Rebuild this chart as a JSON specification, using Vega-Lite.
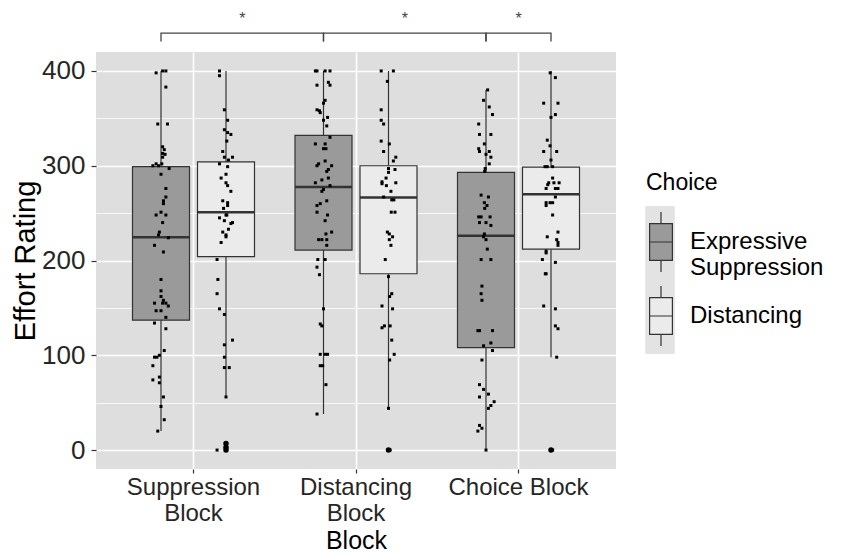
{
"$schema": "https://vega.github.io/schema/vega-lite/v6.json",
"width": 520,
"height": 417,
"autosize": "none",
"padding": {"left": 96, "top": 52, "right": 228, "bottom": 87},
"background": "white",
"config": {
  "font": "Liberation Sans",
  "view": {"fill": "#DEDEDE", "stroke": null}
},
"datasets": {
  "boxes": [
    {"Block": "Suppression Block", "Choice": "Expressive Suppression", "lower": 20, "q1": 137, "median": 224.5, "q3": 299, "upper": 400},
    {"Block": "Suppression Block", "Choice": "Distancing", "lower": 56, "q1": 204, "median": 251, "q3": 304, "upper": 400},
    {"Block": "Distancing Block", "Choice": "Expressive Suppression", "lower": 38, "q1": 211, "median": 277.5, "q3": 332, "upper": 400},
    {"Block": "Distancing Block", "Choice": "Distancing", "lower": 43.5, "q1": 186, "median": 266.5, "q3": 300, "upper": 400},
    {"Block": "Choice Block", "Choice": "Expressive Suppression", "lower": 0, "q1": 108, "median": 226, "q3": 293, "upper": 380},
    {"Block": "Choice Block", "Choice": "Distancing", "lower": 98, "q1": 212, "median": 270, "q3": 298.6, "upper": 400}
  ],
  "outliers": [
    {"Block": "Suppression Block", "Choice": "Distancing", "rating": 0},
    {"Block": "Suppression Block", "Choice": "Distancing", "rating": 3},
    {"Block": "Suppression Block", "Choice": "Distancing", "rating": 7},
    {"Block": "Distancing Block", "Choice": "Distancing", "rating": 0},
    {"Block": "Choice Block", "Choice": "Distancing", "rating": 0}
  ],
  "brackets": [
    {"pair": 1, "step": 1, "Block": "Suppression Block", "Choice": "Expressive Suppression", "y": 431},
    {"pair": 1, "step": 2, "Block": "Suppression Block", "Choice": "Expressive Suppression", "y": 440},
    {"pair": 1, "step": 3, "Block": "Distancing Block", "Choice": "Expressive Suppression", "y": 440},
    {"pair": 1, "step": 4, "Block": "Distancing Block", "Choice": "Expressive Suppression", "y": 431},
    {"pair": 2, "step": 1, "Block": "Distancing Block", "Choice": "Expressive Suppression", "y": 431},
    {"pair": 2, "step": 2, "Block": "Distancing Block", "Choice": "Expressive Suppression", "y": 440},
    {"pair": 2, "step": 3, "Block": "Choice Block", "Choice": "Expressive Suppression", "y": 440},
    {"pair": 2, "step": 4, "Block": "Choice Block", "Choice": "Expressive Suppression", "y": 431},
    {"pair": 3, "step": 1, "Block": "Choice Block", "Choice": "Expressive Suppression", "y": 431},
    {"pair": 3, "step": 2, "Block": "Choice Block", "Choice": "Expressive Suppression", "y": 440},
    {"pair": 3, "step": 3, "Block": "Choice Block", "Choice": "Distancing", "y": 440},
    {"pair": 3, "step": 4, "Block": "Choice Block", "Choice": "Distancing", "y": 431}
  ],
  "stars": [
    {"Block": "Suppression Block", "shift": 0.5, "y": 455, "label": "*"},
    {"Block": "Distancing Block", "shift": 0.5, "y": 455, "label": "*"},
    {"Block": "Choice Block", "shift": 0.2, "y": 455, "label": "*"}
  ],
  "points": [
    {"Block": "Suppression Block", "Choice": "Expressive Suppression", "rating": 398, "jitter": -0.03},
    {"Block": "Suppression Block", "Choice": "Expressive Suppression", "rating": 400, "jitter": 0.01},
    {"Block": "Suppression Block", "Choice": "Expressive Suppression", "rating": 400, "jitter": 0.03},
    {"Block": "Suppression Block", "Choice": "Expressive Suppression", "rating": 383, "jitter": 0.03},
    {"Block": "Suppression Block", "Choice": "Expressive Suppression", "rating": 344, "jitter": -0.02},
    {"Block": "Suppression Block", "Choice": "Expressive Suppression", "rating": 344, "jitter": 0.04},
    {"Block": "Suppression Block", "Choice": "Expressive Suppression", "rating": 320, "jitter": 0.01},
    {"Block": "Suppression Block", "Choice": "Expressive Suppression", "rating": 317, "jitter": 0.02},
    {"Block": "Suppression Block", "Choice": "Expressive Suppression", "rating": 313, "jitter": 0.01},
    {"Block": "Suppression Block", "Choice": "Expressive Suppression", "rating": 312, "jitter": 0.025},
    {"Block": "Suppression Block", "Choice": "Expressive Suppression", "rating": 309, "jitter": 0.01},
    {"Block": "Suppression Block", "Choice": "Expressive Suppression", "rating": 302, "jitter": -0.03},
    {"Block": "Suppression Block", "Choice": "Expressive Suppression", "rating": 300, "jitter": -0.05},
    {"Block": "Suppression Block", "Choice": "Expressive Suppression", "rating": 300, "jitter": -0.015},
    {"Block": "Suppression Block", "Choice": "Expressive Suppression", "rating": 302, "jitter": 0.005},
    {"Block": "Suppression Block", "Choice": "Expressive Suppression", "rating": 297, "jitter": 0.05},
    {"Block": "Suppression Block", "Choice": "Expressive Suppression", "rating": 291, "jitter": 0},
    {"Block": "Suppression Block", "Choice": "Expressive Suppression", "rating": 276, "jitter": 0.03},
    {"Block": "Suppression Block", "Choice": "Expressive Suppression", "rating": 267, "jitter": 0.03},
    {"Block": "Suppression Block", "Choice": "Expressive Suppression", "rating": 263, "jitter": 0.015},
    {"Block": "Suppression Block", "Choice": "Expressive Suppression", "rating": 260, "jitter": 0.015},
    {"Block": "Suppression Block", "Choice": "Expressive Suppression", "rating": 248, "jitter": -0.03},
    {"Block": "Suppression Block", "Choice": "Expressive Suppression", "rating": 251, "jitter": 0},
    {"Block": "Suppression Block", "Choice": "Expressive Suppression", "rating": 248, "jitter": 0.03},
    {"Block": "Suppression Block", "Choice": "Expressive Suppression", "rating": 240, "jitter": 0.01},
    {"Block": "Suppression Block", "Choice": "Expressive Suppression", "rating": 230, "jitter": -0.01},
    {"Block": "Suppression Block", "Choice": "Expressive Suppression", "rating": 227, "jitter": -0.015},
    {"Block": "Suppression Block", "Choice": "Expressive Suppression", "rating": 224, "jitter": 0.045},
    {"Block": "Suppression Block", "Choice": "Expressive Suppression", "rating": 216, "jitter": -0.04},
    {"Block": "Suppression Block", "Choice": "Expressive Suppression", "rating": 209, "jitter": 0.015},
    {"Block": "Suppression Block", "Choice": "Expressive Suppression", "rating": 180, "jitter": 0},
    {"Block": "Suppression Block", "Choice": "Expressive Suppression", "rating": 168, "jitter": 0},
    {"Block": "Suppression Block", "Choice": "Expressive Suppression", "rating": 162, "jitter": 0},
    {"Block": "Suppression Block", "Choice": "Expressive Suppression", "rating": 158, "jitter": 0.015},
    {"Block": "Suppression Block", "Choice": "Expressive Suppression", "rating": 155, "jitter": -0.04},
    {"Block": "Suppression Block", "Choice": "Expressive Suppression", "rating": 155, "jitter": 0.01},
    {"Block": "Suppression Block", "Choice": "Expressive Suppression", "rating": 155, "jitter": 0.03},
    {"Block": "Suppression Block", "Choice": "Expressive Suppression", "rating": 152, "jitter": 0.045},
    {"Block": "Suppression Block", "Choice": "Expressive Suppression", "rating": 147, "jitter": -0.03},
    {"Block": "Suppression Block", "Choice": "Expressive Suppression", "rating": 147, "jitter": 0},
    {"Block": "Suppression Block", "Choice": "Expressive Suppression", "rating": 140, "jitter": 0.03},
    {"Block": "Suppression Block", "Choice": "Expressive Suppression", "rating": 134, "jitter": -0.04},
    {"Block": "Suppression Block", "Choice": "Expressive Suppression", "rating": 128, "jitter": 0.03},
    {"Block": "Suppression Block", "Choice": "Expressive Suppression", "rating": 105, "jitter": 0.02},
    {"Block": "Suppression Block", "Choice": "Expressive Suppression", "rating": 100, "jitter": -0.01},
    {"Block": "Suppression Block", "Choice": "Expressive Suppression", "rating": 98, "jitter": -0.025},
    {"Block": "Suppression Block", "Choice": "Expressive Suppression", "rating": 98, "jitter": -0.04},
    {"Block": "Suppression Block", "Choice": "Expressive Suppression", "rating": 89, "jitter": -0.05},
    {"Block": "Suppression Block", "Choice": "Expressive Suppression", "rating": 77, "jitter": -0.01},
    {"Block": "Suppression Block", "Choice": "Expressive Suppression", "rating": 74, "jitter": -0.05},
    {"Block": "Suppression Block", "Choice": "Expressive Suppression", "rating": 71, "jitter": -0.01},
    {"Block": "Suppression Block", "Choice": "Expressive Suppression", "rating": 56, "jitter": 0.015},
    {"Block": "Suppression Block", "Choice": "Expressive Suppression", "rating": 46, "jitter": 0},
    {"Block": "Suppression Block", "Choice": "Expressive Suppression", "rating": 32, "jitter": 0.02},
    {"Block": "Suppression Block", "Choice": "Expressive Suppression", "rating": 20, "jitter": -0.02},

    {"Block": "Suppression Block", "Choice": "Distancing", "rating": 400, "jitter": -0.04},
    {"Block": "Suppression Block", "Choice": "Distancing", "rating": 395, "jitter": -0.04},
    {"Block": "Suppression Block", "Choice": "Distancing", "rating": 359, "jitter": -0.01},
    {"Block": "Suppression Block", "Choice": "Distancing", "rating": 348, "jitter": 0.01},
    {"Block": "Suppression Block", "Choice": "Distancing", "rating": 338, "jitter": -0.01},
    {"Block": "Suppression Block", "Choice": "Distancing", "rating": 335, "jitter": 0.01},
    {"Block": "Suppression Block", "Choice": "Distancing", "rating": 333, "jitter": 0.03},
    {"Block": "Suppression Block", "Choice": "Distancing", "rating": 326, "jitter": 0.005},
    {"Block": "Suppression Block", "Choice": "Distancing", "rating": 315, "jitter": -0.02},
    {"Block": "Suppression Block", "Choice": "Distancing", "rating": 309, "jitter": -0.01},
    {"Block": "Suppression Block", "Choice": "Distancing", "rating": 309, "jitter": 0.04},
    {"Block": "Suppression Block", "Choice": "Distancing", "rating": 306, "jitter": 0.015},
    {"Block": "Suppression Block", "Choice": "Distancing", "rating": 302, "jitter": -0.04},
    {"Block": "Suppression Block", "Choice": "Distancing", "rating": 299, "jitter": 0.01},
    {"Block": "Suppression Block", "Choice": "Distancing", "rating": 291, "jitter": 0},
    {"Block": "Suppression Block", "Choice": "Distancing", "rating": 287, "jitter": -0.03},
    {"Block": "Suppression Block", "Choice": "Distancing", "rating": 282, "jitter": 0},
    {"Block": "Suppression Block", "Choice": "Distancing", "rating": 279, "jitter": 0.01},
    {"Block": "Suppression Block", "Choice": "Distancing", "rating": 273, "jitter": 0.03},
    {"Block": "Suppression Block", "Choice": "Distancing", "rating": 263, "jitter": -0.02},
    {"Block": "Suppression Block", "Choice": "Distancing", "rating": 261, "jitter": 0.01},
    {"Block": "Suppression Block", "Choice": "Distancing", "rating": 258, "jitter": 0.01},
    {"Block": "Suppression Block", "Choice": "Distancing", "rating": 255, "jitter": -0.015},
    {"Block": "Suppression Block", "Choice": "Distancing", "rating": 248, "jitter": 0},
    {"Block": "Suppression Block", "Choice": "Distancing", "rating": 248, "jitter": 0.005},
    {"Block": "Suppression Block", "Choice": "Distancing", "rating": 245, "jitter": -0.04},
    {"Block": "Suppression Block", "Choice": "Distancing", "rating": 242, "jitter": -0.01},
    {"Block": "Suppression Block", "Choice": "Distancing", "rating": 240, "jitter": 0.04},
    {"Block": "Suppression Block", "Choice": "Distancing", "rating": 239, "jitter": 0.03},
    {"Block": "Suppression Block", "Choice": "Distancing", "rating": 233, "jitter": 0.015},
    {"Block": "Suppression Block", "Choice": "Distancing", "rating": 230, "jitter": -0.02},
    {"Block": "Suppression Block", "Choice": "Distancing", "rating": 227, "jitter": 0},
    {"Block": "Suppression Block", "Choice": "Distancing", "rating": 225, "jitter": 0},
    {"Block": "Suppression Block", "Choice": "Distancing", "rating": 219, "jitter": -0.03},
    {"Block": "Suppression Block", "Choice": "Distancing", "rating": 201, "jitter": -0.055},
    {"Block": "Suppression Block", "Choice": "Distancing", "rating": 180, "jitter": -0.05},
    {"Block": "Suppression Block", "Choice": "Distancing", "rating": 165, "jitter": -0.055},
    {"Block": "Suppression Block", "Choice": "Distancing", "rating": 149, "jitter": -0.04},
    {"Block": "Suppression Block", "Choice": "Distancing", "rating": 143, "jitter": -0.01},
    {"Block": "Suppression Block", "Choice": "Distancing", "rating": 116, "jitter": 0.04},
    {"Block": "Suppression Block", "Choice": "Distancing", "rating": 111, "jitter": -0.01},
    {"Block": "Suppression Block", "Choice": "Distancing", "rating": 98, "jitter": -0.01},
    {"Block": "Suppression Block", "Choice": "Distancing", "rating": 87, "jitter": -0.01},
    {"Block": "Suppression Block", "Choice": "Distancing", "rating": 87, "jitter": 0.02},
    {"Block": "Suppression Block", "Choice": "Distancing", "rating": 56, "jitter": 0},
    {"Block": "Suppression Block", "Choice": "Distancing", "rating": 0, "jitter": -0.055},
    {"Block": "Suppression Block", "Choice": "Distancing", "rating": 0, "jitter": 0},
    {"Block": "Suppression Block", "Choice": "Distancing", "rating": 3, "jitter": 0},
    {"Block": "Suppression Block", "Choice": "Distancing", "rating": 7, "jitter": 0},

    {"Block": "Distancing Block", "Choice": "Expressive Suppression", "rating": 400, "jitter": -0.05},
    {"Block": "Distancing Block", "Choice": "Expressive Suppression", "rating": 400, "jitter": -0.04},
    {"Block": "Distancing Block", "Choice": "Expressive Suppression", "rating": 400, "jitter": 0.01},
    {"Block": "Distancing Block", "Choice": "Expressive Suppression", "rating": 400, "jitter": 0.04},
    {"Block": "Distancing Block", "Choice": "Expressive Suppression", "rating": 385, "jitter": -0.04},
    {"Block": "Distancing Block", "Choice": "Expressive Suppression", "rating": 388, "jitter": 0.03},
    {"Block": "Distancing Block", "Choice": "Expressive Suppression", "rating": 385, "jitter": 0.04},
    {"Block": "Distancing Block", "Choice": "Expressive Suppression", "rating": 369, "jitter": 0.01},
    {"Block": "Distancing Block", "Choice": "Expressive Suppression", "rating": 366, "jitter": 0},
    {"Block": "Distancing Block", "Choice": "Expressive Suppression", "rating": 359, "jitter": -0.04},
    {"Block": "Distancing Block", "Choice": "Expressive Suppression", "rating": 358, "jitter": -0.025},
    {"Block": "Distancing Block", "Choice": "Expressive Suppression", "rating": 356, "jitter": -0.02},
    {"Block": "Distancing Block", "Choice": "Expressive Suppression", "rating": 351, "jitter": 0.025},
    {"Block": "Distancing Block", "Choice": "Expressive Suppression", "rating": 348, "jitter": 0},
    {"Block": "Distancing Block", "Choice": "Expressive Suppression", "rating": 342, "jitter": 0.02},
    {"Block": "Distancing Block", "Choice": "Expressive Suppression", "rating": 330, "jitter": 0.04},
    {"Block": "Distancing Block", "Choice": "Expressive Suppression", "rating": 323, "jitter": -0.05},
    {"Block": "Distancing Block", "Choice": "Expressive Suppression", "rating": 323, "jitter": 0.01},
    {"Block": "Distancing Block", "Choice": "Expressive Suppression", "rating": 318, "jitter": 0},
    {"Block": "Distancing Block", "Choice": "Expressive Suppression", "rating": 318, "jitter": 0.015},
    {"Block": "Distancing Block", "Choice": "Expressive Suppression", "rating": 305, "jitter": 0.01},
    {"Block": "Distancing Block", "Choice": "Expressive Suppression", "rating": 300, "jitter": -0.04},
    {"Block": "Distancing Block", "Choice": "Expressive Suppression", "rating": 302, "jitter": -0.03},
    {"Block": "Distancing Block", "Choice": "Expressive Suppression", "rating": 300, "jitter": 0.05},
    {"Block": "Distancing Block", "Choice": "Expressive Suppression", "rating": 296, "jitter": 0.03},
    {"Block": "Distancing Block", "Choice": "Expressive Suppression", "rating": 294, "jitter": 0.02},
    {"Block": "Distancing Block", "Choice": "Expressive Suppression", "rating": 287, "jitter": 0.03},
    {"Block": "Distancing Block", "Choice": "Expressive Suppression", "rating": 285, "jitter": -0.01},
    {"Block": "Distancing Block", "Choice": "Expressive Suppression", "rating": 282, "jitter": -0.05},
    {"Block": "Distancing Block", "Choice": "Expressive Suppression", "rating": 279, "jitter": 0.04},
    {"Block": "Distancing Block", "Choice": "Expressive Suppression", "rating": 275, "jitter": 0},
    {"Block": "Distancing Block", "Choice": "Expressive Suppression", "rating": 273, "jitter": -0.01},
    {"Block": "Distancing Block", "Choice": "Expressive Suppression", "rating": 263, "jitter": 0.02},
    {"Block": "Distancing Block", "Choice": "Expressive Suppression", "rating": 260, "jitter": -0.02},
    {"Block": "Distancing Block", "Choice": "Expressive Suppression", "rating": 258, "jitter": -0.04},
    {"Block": "Distancing Block", "Choice": "Expressive Suppression", "rating": 251, "jitter": -0.04},
    {"Block": "Distancing Block", "Choice": "Expressive Suppression", "rating": 248, "jitter": 0.025},
    {"Block": "Distancing Block", "Choice": "Expressive Suppression", "rating": 242, "jitter": 0.01},
    {"Block": "Distancing Block", "Choice": "Expressive Suppression", "rating": 230, "jitter": 0.05},
    {"Block": "Distancing Block", "Choice": "Expressive Suppression", "rating": 228, "jitter": 0.015},
    {"Block": "Distancing Block", "Choice": "Expressive Suppression", "rating": 222, "jitter": -0.03},
    {"Block": "Distancing Block", "Choice": "Expressive Suppression", "rating": 222, "jitter": -0.01},
    {"Block": "Distancing Block", "Choice": "Expressive Suppression", "rating": 222, "jitter": 0.02},
    {"Block": "Distancing Block", "Choice": "Expressive Suppression", "rating": 216, "jitter": 0.02},
    {"Block": "Distancing Block", "Choice": "Expressive Suppression", "rating": 201, "jitter": -0.035},
    {"Block": "Distancing Block", "Choice": "Expressive Suppression", "rating": 201, "jitter": 0.01},
    {"Block": "Distancing Block", "Choice": "Expressive Suppression", "rating": 193, "jitter": -0.04},
    {"Block": "Distancing Block", "Choice": "Expressive Suppression", "rating": 185, "jitter": -0.025},
    {"Block": "Distancing Block", "Choice": "Expressive Suppression", "rating": 149, "jitter": 0},
    {"Block": "Distancing Block", "Choice": "Expressive Suppression", "rating": 133, "jitter": -0.02},
    {"Block": "Distancing Block", "Choice": "Expressive Suppression", "rating": 131, "jitter": -0.01},
    {"Block": "Distancing Block", "Choice": "Expressive Suppression", "rating": 101, "jitter": -0.02},
    {"Block": "Distancing Block", "Choice": "Expressive Suppression", "rating": 101, "jitter": 0.01},
    {"Block": "Distancing Block", "Choice": "Expressive Suppression", "rating": 101, "jitter": 0.025},
    {"Block": "Distancing Block", "Choice": "Expressive Suppression", "rating": 89, "jitter": -0.02},
    {"Block": "Distancing Block", "Choice": "Expressive Suppression", "rating": 89, "jitter": -0.005},
    {"Block": "Distancing Block", "Choice": "Expressive Suppression", "rating": 69, "jitter": 0.015},
    {"Block": "Distancing Block", "Choice": "Expressive Suppression", "rating": 38, "jitter": -0.04},

    {"Block": "Distancing Block", "Choice": "Distancing", "rating": 400, "jitter": -0.045},
    {"Block": "Distancing Block", "Choice": "Distancing", "rating": 400, "jitter": 0.03},
    {"Block": "Distancing Block", "Choice": "Distancing", "rating": 389, "jitter": -0.007},
    {"Block": "Distancing Block", "Choice": "Distancing", "rating": 359, "jitter": -0.045},
    {"Block": "Distancing Block", "Choice": "Distancing", "rating": 348, "jitter": -0.045},
    {"Block": "Distancing Block", "Choice": "Distancing", "rating": 344, "jitter": -0.03},
    {"Block": "Distancing Block", "Choice": "Distancing", "rating": 326, "jitter": -0.045},
    {"Block": "Distancing Block", "Choice": "Distancing", "rating": 323, "jitter": 0.005},
    {"Block": "Distancing Block", "Choice": "Distancing", "rating": 315, "jitter": -0.03},
    {"Block": "Distancing Block", "Choice": "Distancing", "rating": 309, "jitter": 0.045},
    {"Block": "Distancing Block", "Choice": "Distancing", "rating": 305, "jitter": 0.03},
    {"Block": "Distancing Block", "Choice": "Distancing", "rating": 297, "jitter": 0},
    {"Block": "Distancing Block", "Choice": "Distancing", "rating": 296, "jitter": 0.04},
    {"Block": "Distancing Block", "Choice": "Distancing", "rating": 293, "jitter": 0},
    {"Block": "Distancing Block", "Choice": "Distancing", "rating": 287, "jitter": -0.015},
    {"Block": "Distancing Block", "Choice": "Distancing", "rating": 283, "jitter": -0.04},
    {"Block": "Distancing Block", "Choice": "Distancing", "rating": 281, "jitter": -0.04},
    {"Block": "Distancing Block", "Choice": "Distancing", "rating": 279, "jitter": -0.013},
    {"Block": "Distancing Block", "Choice": "Distancing", "rating": 282, "jitter": 0.045},
    {"Block": "Distancing Block", "Choice": "Distancing", "rating": 273, "jitter": 0.015},
    {"Block": "Distancing Block", "Choice": "Distancing", "rating": 267, "jitter": -0.03},
    {"Block": "Distancing Block", "Choice": "Distancing", "rating": 264, "jitter": 0.02},
    {"Block": "Distancing Block", "Choice": "Distancing", "rating": 264, "jitter": 0.033},
    {"Block": "Distancing Block", "Choice": "Distancing", "rating": 251, "jitter": 0.017},
    {"Block": "Distancing Block", "Choice": "Distancing", "rating": 251, "jitter": 0.04},
    {"Block": "Distancing Block", "Choice": "Distancing", "rating": 230, "jitter": -0.007},
    {"Block": "Distancing Block", "Choice": "Distancing", "rating": 228, "jitter": 0.005},
    {"Block": "Distancing Block", "Choice": "Distancing", "rating": 225, "jitter": 0.025},
    {"Block": "Distancing Block", "Choice": "Distancing", "rating": 222, "jitter": 0.005},
    {"Block": "Distancing Block", "Choice": "Distancing", "rating": 216, "jitter": 0.015},
    {"Block": "Distancing Block", "Choice": "Distancing", "rating": 201, "jitter": -0.02},
    {"Block": "Distancing Block", "Choice": "Distancing", "rating": 183, "jitter": 0},
    {"Block": "Distancing Block", "Choice": "Distancing", "rating": 165, "jitter": 0.02},
    {"Block": "Distancing Block", "Choice": "Distancing", "rating": 162, "jitter": 0.007},
    {"Block": "Distancing Block", "Choice": "Distancing", "rating": 152, "jitter": -0.04},
    {"Block": "Distancing Block", "Choice": "Distancing", "rating": 149, "jitter": 0.025},
    {"Block": "Distancing Block", "Choice": "Distancing", "rating": 131, "jitter": -0.025},
    {"Block": "Distancing Block", "Choice": "Distancing", "rating": 129, "jitter": -0.04},
    {"Block": "Distancing Block", "Choice": "Distancing", "rating": 131, "jitter": 0.01},
    {"Block": "Distancing Block", "Choice": "Distancing", "rating": 116, "jitter": 0.02},
    {"Block": "Distancing Block", "Choice": "Distancing", "rating": 101, "jitter": 0.035},
    {"Block": "Distancing Block", "Choice": "Distancing", "rating": 95, "jitter": 0.007},
    {"Block": "Distancing Block", "Choice": "Distancing", "rating": 44, "jitter": 0},
    {"Block": "Distancing Block", "Choice": "Distancing", "rating": 0, "jitter": 0},
    {"Block": "Distancing Block", "Choice": "Distancing", "rating": 0, "jitter": 0.01},

    {"Block": "Choice Block", "Choice": "Expressive Suppression", "rating": 380, "jitter": 0.01},
    {"Block": "Choice Block", "Choice": "Expressive Suppression", "rating": 369, "jitter": -0.015},
    {"Block": "Choice Block", "Choice": "Expressive Suppression", "rating": 362, "jitter": 0.02},
    {"Block": "Choice Block", "Choice": "Expressive Suppression", "rating": 354, "jitter": 0.04},
    {"Block": "Choice Block", "Choice": "Expressive Suppression", "rating": 344, "jitter": -0.045},
    {"Block": "Choice Block", "Choice": "Expressive Suppression", "rating": 333, "jitter": -0.04},
    {"Block": "Choice Block", "Choice": "Expressive Suppression", "rating": 333, "jitter": 0.03},
    {"Block": "Choice Block", "Choice": "Expressive Suppression", "rating": 323, "jitter": -0.01},
    {"Block": "Choice Block", "Choice": "Expressive Suppression", "rating": 318, "jitter": -0.045},
    {"Block": "Choice Block", "Choice": "Expressive Suppression", "rating": 315, "jitter": -0.04},
    {"Block": "Choice Block", "Choice": "Expressive Suppression", "rating": 315, "jitter": 0.02},
    {"Block": "Choice Block", "Choice": "Expressive Suppression", "rating": 312, "jitter": 0},
    {"Block": "Choice Block", "Choice": "Expressive Suppression", "rating": 309, "jitter": 0.03},
    {"Block": "Choice Block", "Choice": "Expressive Suppression", "rating": 302, "jitter": 0.02},
    {"Block": "Choice Block", "Choice": "Expressive Suppression", "rating": 297, "jitter": -0.005},
    {"Block": "Choice Block", "Choice": "Expressive Suppression", "rating": 294, "jitter": -0.008},
    {"Block": "Choice Block", "Choice": "Expressive Suppression", "rating": 269, "jitter": -0.03},
    {"Block": "Choice Block", "Choice": "Expressive Suppression", "rating": 267, "jitter": 0.015},
    {"Block": "Choice Block", "Choice": "Expressive Suppression", "rating": 261, "jitter": -0.01},
    {"Block": "Choice Block", "Choice": "Expressive Suppression", "rating": 258, "jitter": 0.006},
    {"Block": "Choice Block", "Choice": "Expressive Suppression", "rating": 255, "jitter": -0.008},
    {"Block": "Choice Block", "Choice": "Expressive Suppression", "rating": 246, "jitter": -0.045},
    {"Block": "Choice Block", "Choice": "Expressive Suppression", "rating": 246, "jitter": -0.03},
    {"Block": "Choice Block", "Choice": "Expressive Suppression", "rating": 246, "jitter": 0.025},
    {"Block": "Choice Block", "Choice": "Expressive Suppression", "rating": 240, "jitter": -0.04},
    {"Block": "Choice Block", "Choice": "Expressive Suppression", "rating": 240, "jitter": 0},
    {"Block": "Choice Block", "Choice": "Expressive Suppression", "rating": 237, "jitter": 0.03},
    {"Block": "Choice Block", "Choice": "Expressive Suppression", "rating": 228, "jitter": -0.01},
    {"Block": "Choice Block", "Choice": "Expressive Suppression", "rating": 225, "jitter": -0.015},
    {"Block": "Choice Block", "Choice": "Expressive Suppression", "rating": 222, "jitter": 0},
    {"Block": "Choice Block", "Choice": "Expressive Suppression", "rating": 212, "jitter": 0.008},
    {"Block": "Choice Block", "Choice": "Expressive Suppression", "rating": 201, "jitter": -0.03},
    {"Block": "Choice Block", "Choice": "Expressive Suppression", "rating": 201, "jitter": 0.03},
    {"Block": "Choice Block", "Choice": "Expressive Suppression", "rating": 173, "jitter": -0.025},
    {"Block": "Choice Block", "Choice": "Expressive Suppression", "rating": 165, "jitter": -0.03},
    {"Block": "Choice Block", "Choice": "Expressive Suppression", "rating": 158, "jitter": -0.025},
    {"Block": "Choice Block", "Choice": "Expressive Suppression", "rating": 126, "jitter": -0.05},
    {"Block": "Choice Block", "Choice": "Expressive Suppression", "rating": 126, "jitter": -0.04},
    {"Block": "Choice Block", "Choice": "Expressive Suppression", "rating": 126, "jitter": 0.04},
    {"Block": "Choice Block", "Choice": "Expressive Suppression", "rating": 113, "jitter": 0.03},
    {"Block": "Choice Block", "Choice": "Expressive Suppression", "rating": 110, "jitter": -0.015},
    {"Block": "Choice Block", "Choice": "Expressive Suppression", "rating": 105, "jitter": 0.04},
    {"Block": "Choice Block", "Choice": "Expressive Suppression", "rating": 95, "jitter": -0.025},
    {"Block": "Choice Block", "Choice": "Expressive Suppression", "rating": 69, "jitter": -0.04},
    {"Block": "Choice Block", "Choice": "Expressive Suppression", "rating": 64, "jitter": -0.015},
    {"Block": "Choice Block", "Choice": "Expressive Suppression", "rating": 59, "jitter": 0.015},
    {"Block": "Choice Block", "Choice": "Expressive Suppression", "rating": 56, "jitter": -0.04},
    {"Block": "Choice Block", "Choice": "Expressive Suppression", "rating": 51, "jitter": 0.05},
    {"Block": "Choice Block", "Choice": "Expressive Suppression", "rating": 47, "jitter": 0.03},
    {"Block": "Choice Block", "Choice": "Expressive Suppression", "rating": 44, "jitter": 0.015},
    {"Block": "Choice Block", "Choice": "Expressive Suppression", "rating": 26, "jitter": -0.04},
    {"Block": "Choice Block", "Choice": "Expressive Suppression", "rating": 23, "jitter": -0.025},
    {"Block": "Choice Block", "Choice": "Expressive Suppression", "rating": 20, "jitter": -0.05},
    {"Block": "Choice Block", "Choice": "Expressive Suppression", "rating": 0, "jitter": 0},

    {"Block": "Choice Block", "Choice": "Distancing", "rating": 398, "jitter": -0.005},
    {"Block": "Choice Block", "Choice": "Distancing", "rating": 393, "jitter": 0.027},
    {"Block": "Choice Block", "Choice": "Distancing", "rating": 366, "jitter": -0.045},
    {"Block": "Choice Block", "Choice": "Distancing", "rating": 366, "jitter": 0.043},
    {"Block": "Choice Block", "Choice": "Distancing", "rating": 354, "jitter": 0.027},
    {"Block": "Choice Block", "Choice": "Distancing", "rating": 351, "jitter": 0},
    {"Block": "Choice Block", "Choice": "Distancing", "rating": 327, "jitter": -0.023},
    {"Block": "Choice Block", "Choice": "Distancing", "rating": 321, "jitter": -0.006},
    {"Block": "Choice Block", "Choice": "Distancing", "rating": 315, "jitter": -0.045},
    {"Block": "Choice Block", "Choice": "Distancing", "rating": 315, "jitter": 0.035},
    {"Block": "Choice Block", "Choice": "Distancing", "rating": 306, "jitter": 0},
    {"Block": "Choice Block", "Choice": "Distancing", "rating": 299, "jitter": -0.037},
    {"Block": "Choice Block", "Choice": "Distancing", "rating": 299, "jitter": -0.023},
    {"Block": "Choice Block", "Choice": "Distancing", "rating": 299, "jitter": 0.01},
    {"Block": "Choice Block", "Choice": "Distancing", "rating": 287, "jitter": 0.01},
    {"Block": "Choice Block", "Choice": "Distancing", "rating": 282, "jitter": -0.014},
    {"Block": "Choice Block", "Choice": "Distancing", "rating": 282, "jitter": 0.018},
    {"Block": "Choice Block", "Choice": "Distancing", "rating": 282, "jitter": 0.05},
    {"Block": "Choice Block", "Choice": "Distancing", "rating": 280, "jitter": -0.02},
    {"Block": "Choice Block", "Choice": "Distancing", "rating": 276, "jitter": -0.03},
    {"Block": "Choice Block", "Choice": "Distancing", "rating": 276, "jitter": 0.027},
    {"Block": "Choice Block", "Choice": "Distancing", "rating": 276, "jitter": 0.043},
    {"Block": "Choice Block", "Choice": "Distancing", "rating": 267, "jitter": 0.027},
    {"Block": "Choice Block", "Choice": "Distancing", "rating": 261, "jitter": -0.03},
    {"Block": "Choice Block", "Choice": "Distancing", "rating": 258, "jitter": -0.03},
    {"Block": "Choice Block", "Choice": "Distancing", "rating": 261, "jitter": -0.006},
    {"Block": "Choice Block", "Choice": "Distancing", "rating": 261, "jitter": 0.01},
    {"Block": "Choice Block", "Choice": "Distancing", "rating": 248, "jitter": 0.01},
    {"Block": "Choice Block", "Choice": "Distancing", "rating": 225, "jitter": -0.023},
    {"Block": "Choice Block", "Choice": "Distancing", "rating": 230, "jitter": 0.043},
    {"Block": "Choice Block", "Choice": "Distancing", "rating": 222, "jitter": 0.035},
    {"Block": "Choice Block", "Choice": "Distancing", "rating": 219, "jitter": 0.043},
    {"Block": "Choice Block", "Choice": "Distancing", "rating": 216, "jitter": 0.043},
    {"Block": "Choice Block", "Choice": "Distancing", "rating": 210, "jitter": -0.03},
    {"Block": "Choice Block", "Choice": "Distancing", "rating": 208, "jitter": -0.03},
    {"Block": "Choice Block", "Choice": "Distancing", "rating": 201, "jitter": -0.053},
    {"Block": "Choice Block", "Choice": "Distancing", "rating": 198, "jitter": 0.027},
    {"Block": "Choice Block", "Choice": "Distancing", "rating": 186, "jitter": -0.035},
    {"Block": "Choice Block", "Choice": "Distancing", "rating": 186, "jitter": -0.03},
    {"Block": "Choice Block", "Choice": "Distancing", "rating": 152, "jitter": -0.045},
    {"Block": "Choice Block", "Choice": "Distancing", "rating": 149, "jitter": 0.027},
    {"Block": "Choice Block", "Choice": "Distancing", "rating": 131, "jitter": 0.027},
    {"Block": "Choice Block", "Choice": "Distancing", "rating": 128, "jitter": 0.043},
    {"Block": "Choice Block", "Choice": "Distancing", "rating": 98, "jitter": 0.035},
    {"Block": "Choice Block", "Choice": "Distancing", "rating": 0, "jitter": 0},
    {"Block": "Choice Block", "Choice": "Distancing", "rating": 0, "jitter": 0.01}
  ]
},
"resolve": {"scale": {"xOffset": "independent"}, "axis": {"y": "independent"}},
"encoding": {
  "x": {"field": "Block", "type": "nominal", "sort": ["Suppression Block", "Distancing Block", "Choice Block"],
        "scale": {"domain": ["Suppression Block", "Distancing Block", "Choice Block"], "paddingInner": 0.2, "paddingOuter": 0.2},
        "axis": {"title": "Block", "titleFontSize": 25, "titleFontWeight": "normal", "titleColor": "black", "titlePadding": 3,
                 "labelFontSize": 24, "labelColor": "#262626", "labelAngle": 0, "labelPadding": 2,
                 "labelExpr": "datum.label == 'Suppression Block' ? ['Suppression', 'Block'] : (datum.label == 'Distancing Block' ? ['Distancing', 'Block'] : datum.label)",
                 "grid": true, "gridColor": "white", "gridWidth": 1.6, "domain": false,
                 "tickColor": "#333333", "tickSize": 4, "tickWidth": 1.2, "zindex": 0}}
},
"layer": [
  {
    "data": {"name": "boxes"},
    "mark": {"type": "rule", "strokeWidth": 1.2},
    "encoding": {
      "xOffset": {"field": "Choice", "type": "nominal", "scale": {"type": "band", "domain": ["Expressive Suppression", "Distancing"], "paddingInner": 0.123, "paddingOuter": 0.0615}},
      "y": {"field": "lower", "type": "quantitative", "scale": {"domain": [-20, 420], "nice": false, "zero": false},
            "axis": {"orient": "left", "values": [50, 150, 250, 350], "grid": true, "gridColor": "white", "gridWidth": 0.8, "labels": false, "ticks": false, "domain": false, "title": null, "zindex": 0}},
      "y2": {"field": "upper"},
      "color": {"field": "Choice", "type": "nominal", "scale": {"domain": ["Distancing", "Expressive Suppression"], "range": ["#333333", "#333333"]},
                "legend": {"title": null, "orient": "none", "legendX": 527, "legendY": 154,
                           "symbolType": "M-0.4,-1H0.4V1H-0.4Z", "symbolSize": 5476, "symbolFillColor": "#E3E3E3",
                           "symbolStrokeWidth": 0, "symbolOpacity": 1, "symbolOffset": 0,
                           "labelExpr": "''", "labelFontSize": 1, "labelOffset": 0, "rowPadding": 0}}
    }
  },
  {
    "data": {"name": "boxes"},
    "mark": {"type": "bar", "stroke": "#333333", "strokeWidth": 1.2},
    "encoding": {
      "xOffset": {"field": "Choice", "type": "nominal", "scale": {"type": "band", "domain": ["Expressive Suppression", "Distancing"], "paddingInner": 0.123, "paddingOuter": 0.0615}},
      "y": {"field": "q1", "type": "quantitative", "scale": {"domain": [-20, 420], "nice": false, "zero": false},
            "axis": {"orient": "left", "values": [0, 100, 200, 300, 400], "grid": true, "gridColor": "white", "gridWidth": 1.6,
                     "title": "Effort Rating", "titleFontSize": 29, "titleFontWeight": "normal", "titleColor": "black", "titlePadding": 1,
                     "labelFontSize": 26, "labelColor": "#262626", "labelPadding": 6, "domain": false,
                     "tickColor": "#333333", "tickSize": 5, "tickWidth": 1.2, "zindex": 0}},
      "y2": {"field": "q3"},
      "fill": {"field": "Choice", "type": "nominal", "scale": {"domain": ["Expressive Suppression", "Distancing"], "range": ["#9A9A9A", "#EBEBEB"]},
               "legend": {"title": "Choice", "orient": "none", "legendX": 550, "legendY": 120,
                          "titleFontSize": 23, "titleFontWeight": "normal", "titleColor": "black", "titlePadding": 16,
                          "labelFontSize": 24, "labelColor": "black", "labelOffset": -2, "labelLimit": 300,
                          "labelExpr": "datum.label == 'Expressive Suppression' ? ['Expressive', 'Suppression'] : datum.label",
                          "symbolType": "M0,-1V-0.61M-0.38,-0.61H0.38V0.61H-0.38ZM-0.38,0H0.38M0,0.61V1",
                          "symbolSize": 3600, "symbolOffset": -16, "symbolStrokeColor": "#333333", "symbolStrokeWidth": 1.2, "symbolOpacity": 1,
                          "rowPadding": 3}}
    }
  },
  {
    "data": {"name": "boxes"},
    "mark": {"type": "tick", "orient": "horizontal", "color": "#333333", "size": 57, "thickness": 2.5, "opacity": 1},
    "encoding": {
      "xOffset": {"field": "Choice", "type": "nominal", "scale": {"type": "band", "domain": ["Expressive Suppression", "Distancing"], "paddingInner": 0.123, "paddingOuter": 0.0615}},
      "y": {"field": "median", "type": "quantitative", "axis": null}
    }
  },
  {
    "data": {"name": "outliers"},
    "mark": {"type": "circle", "color": "black", "size": 30, "opacity": 1},
    "encoding": {
      "xOffset": {"field": "Choice", "type": "nominal", "scale": {"type": "band", "domain": ["Expressive Suppression", "Distancing"], "paddingInner": 0.123, "paddingOuter": 0.0615}},
      "y": {"field": "rating", "type": "quantitative", "axis": null}
    }
  },
  {
    "data": {"name": "points"},
    "transform": [{"filter": "datum.Choice == 'Expressive Suppression'"}],
    "mark": {"type": "square", "color": "black", "size": 9, "opacity": 1},
    "encoding": {
      "xOffset": {"field": "jitter", "type": "quantitative", "scale": {"domain": [-0.2, 0.2], "range": [0, 65]}},
      "y": {"field": "rating", "type": "quantitative", "axis": null}
    }
  },
  {
    "data": {"name": "points"},
    "transform": [{"filter": "datum.Choice == 'Distancing'"}],
    "mark": {"type": "square", "color": "black", "size": 9, "opacity": 1},
    "encoding": {
      "xOffset": {"field": "jitter", "type": "quantitative", "scale": {"domain": [-0.2, 0.2], "range": [65, 130]}},
      "y": {"field": "rating", "type": "quantitative", "axis": null}
    }
  },
  {
    "data": {"name": "brackets"},
    "mark": {"type": "line", "color": "#444444", "strokeWidth": 1.3, "clip": false},
    "encoding": {
      "xOffset": {"field": "Choice", "type": "nominal", "scale": {"type": "band", "domain": ["Expressive Suppression", "Distancing"], "paddingInner": 0.123, "paddingOuter": 0.0615}},
      "y": {"field": "y", "type": "quantitative", "axis": null},
      "detail": {"field": "pair", "type": "nominal"},
      "order": {"field": "step", "type": "quantitative"}
    }
  },
  {
    "data": {"name": "stars"},
    "mark": {"type": "text", "color": "#444444", "fontSize": 16, "baseline": "middle", "align": "center", "clip": false},
    "encoding": {
      "xOffset": {"field": "shift", "type": "quantitative", "scale": {"domain": [0, 1], "range": [32.5, 195]}},
      "y": {"field": "y", "type": "quantitative", "axis": null},
      "text": {"field": "label"}
    }
  }
]
}
